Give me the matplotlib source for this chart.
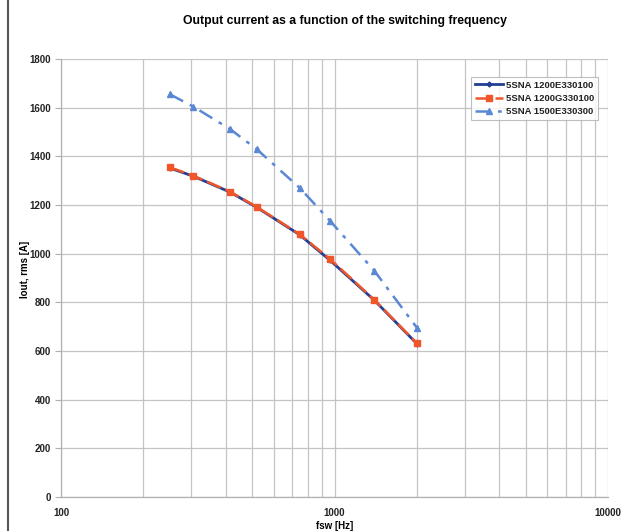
import matplotlib
matplotlib.use('Agg')
import matplotlib.pyplot as plt
from matplotlib.lines import Line2D
from matplotlib.ticker import LogLocator, FixedLocator, NullFormatter
import numpy as np

plt.rcParams['font.family'] = ['Liberation Sans', 'DejaVu Sans']

# Daten
fsw = [250, 305, 415, 520, 745, 965, 1400, 2000]
i_1200E = [1352, 1318, 1253, 1190, 1078, 972, 808, 630]
i_1200G = [1355, 1320, 1255, 1192, 1080, 977, 810, 632]
i_1500E = [1655, 1604, 1512, 1429, 1271, 1134, 929, 696]

labels = ['5SNA 1200E330100', '5SNA 1200G330100', '5SNA 1500E330300']
yticks = [0, 200, 400, 600, 800, 1000, 1200, 1400, 1600, 1800]

fig = plt.figure(figsize=(6.31, 5.31), dpi=100)
ax = fig.add_axes([61/631, 1-497/531, 547/631, 438/531])

ax.plot(fsw, i_1200E, '-', color='#233F94', lw=2.0, marker='D', markersize=2.5, label=labels[0], zorder=3)
ax.plot(fsw, i_1200G, '--', color='#F0562A', lw=1.8, marker='s', markersize=4, label=labels[1],
        dashes=(6, 2), zorder=4)
ax.plot(fsw, i_1500E, '-.', color='#5A88D4', lw=1.8, marker='^', markersize=4.5, label=labels[2],
        dashes=(6, 3, 1.5, 3), zorder=3)

ax.set_xscale('log')
ax.set_xlim(100, 10000)
ax.set_ylim(0, 1800)
ax.set_yticks(yticks)
ax.xaxis.set_major_locator(FixedLocator([100, 1000, 10000]))
ax.xaxis.set_minor_locator(LogLocator(base=10, subs=np.arange(2, 10)))
ax.xaxis.set_minor_formatter(NullFormatter())
ax.set_xticklabels(['100', '1000', '10000'])

ax.grid(True, which='both', axis='x', color='#c4c4c4', lw=0.9)
ax.grid(True, which='major', axis='y', color='#c4c4c4', lw=0.9)
ax.set_axisbelow(True)

for s in ['top', 'right']:
    ax.spines[s].set_visible(False)
for s in ['left', 'bottom']:
    ax.spines[s].set_color('#b0b0b0')
    ax.spines[s].set_linewidth(0.9)

ax.tick_params(axis='y', length=4, color='#b0b0b0', labelsize=7, pad=3)
ax.tick_params(axis='x', which='major', length=0, labelsize=7, pad=8)
ax.tick_params(axis='x', which='minor', length=0)
for t in ax.get_xticklabels() + ax.get_yticklabels():
    t.set_fontweight('bold')
    t.set_color('#222222')

ax.set_xlabel('fsw [Hz]', fontsize=7, fontweight='bold', labelpad=2)
ax.set_ylabel('Iout, rms [A]', fontsize=7, fontweight='bold', labelpad=2)
ax.yaxis.set_label_coords(-0.056, 0.52)
fig.text(0.547, 1-21/531, 'Output current as a function of the switching frequency',
         ha='center', va='center', fontsize=8.8, fontweight='bold')

leg = ax.legend(loc='upper right', bbox_to_anchor=(0.99, 0.97), fontsize=6.8, frameon=True,
                fancybox=False, handlelength=3.0, borderpad=0.4, labelspacing=0.45, handletextpad=0.3)
leg.get_frame().set_edgecolor('#b0b0b0')
leg.get_frame().set_linewidth(0.8)
for t in leg.get_texts():
    t.set_fontweight('bold')
    t.set_color('#222222')

# Rahmenlinie links
fig.add_artist(Line2D([8/631, 8/631], [0, 1], color='#555555', lw=1.5))

fig.savefig('out.png', dpi=100)
